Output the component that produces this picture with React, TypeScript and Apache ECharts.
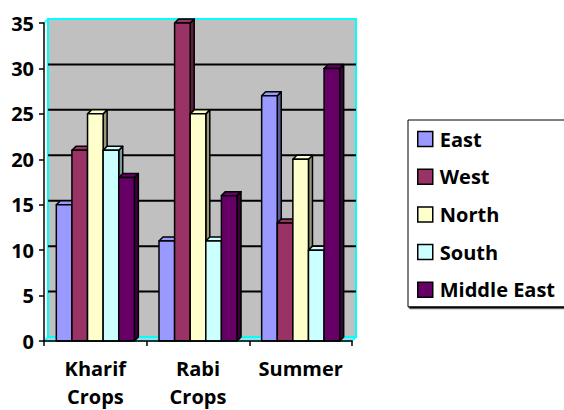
import React, { useEffect, useRef } from "react";
import * as echarts from "echarts";

const categories = ["Kharif\nCrops", "Rabi\nCrops", "Summer"];
const seriesNames = ["East", "West", "North", "South", "Middle East"];
const east = [15, 11, 27];
const west = [21, 35, 13];
const north = [25, 25, 20];
const south = [21, 11, 10];
const middleEast = [18, 16, 30];
const yTicks = [0, 5, 10, 15, 20, 25, 30, 35];

const seriesValues = [east, west, north, south, middleEast];
const frontColors = ["#9999FF", "#993366", "#FFFFCC", "#CCFFFF", "#660066"];
const sideColors = ["#5C5C99", "#5C1F3D", "#99997A", "#7A9999", "#3D003D"];

const FONT = "'Open Sans', sans-serif";
const D = 4; // depth offset

export default function App() {
  const ref = useRef<HTMLDivElement>(null);
  useEffect(() => {
    if (!ref.current) return;
    document.body.style.margin = "0";
    const chart = echarts.init(ref.current, null, { renderer: "svg" });

    const wallSeries: any = {
      type: "custom",
      name: "__wall",
      silent: true,
      z: 1,
      data: [[0, 0]],
      renderItem: (params: any, api: any) => {
        const cs = params.coordSys;
        const x0 = cs.x, y0 = cs.y, x1 = cs.x + cs.width, y1 = cs.y + cs.height;
        const children: any[] = [];
        children.push({
          type: "polygon",
          shape: { points: [[x0, y1], [x0 + D, y1 - D], [x1 + D, y1 - D], [x1, y1]] },
          style: { fill: "#A6D9D9", stroke: "#00FFFF", lineWidth: 1.5 },
        });
        children.push({
          type: "rect",
          shape: { x: x0 + D, y: y0 - D, width: cs.width, height: cs.height },
          style: { fill: "#C0C0C0", stroke: "#00FFFF", lineWidth: 2 },
        });
        yTicks.forEach((t) => {
          if (t === 0 || t === yTicks[yTicks.length - 1]) return;
          const y = api.coord([0, t])[1] - D;
          children.push({
            type: "line",
            shape: { x1: x0 + D, y1: y, x2: x1 + D, y2: y },
            style: { stroke: "#000", lineWidth: 2 },
          });
        });
        children.push({
          type: "line",
          shape: { x1: x0, y1: y0, x2: x0 + D, y2: y0 - D },
          style: { stroke: "#00FFFF", lineWidth: 1.5 },
        });
        return { type: "group", children };
      },
    };

    const barSeries = seriesNames.map((name, s) => ({
      type: "custom",
      name,
      z: 2,
      itemStyle: { color: frontColors[s], borderColor: "#000", borderWidth: 1.5 },
      data: categories.map((_, i) => [i, seriesValues[s][i]]),
      renderItem: (params: any, api: any) => {
        const i = api.value(0);
        const v = api.value(1);
        const base = api.coord([i, 0]);
        const top = api.coord([i, v]);
        const band = api.size([1, 0])[0];
        const barW = (band * 0.76) / 5;
        const xa = base[0] - 2.5 * barW + s * barW;
        const xb = xa + barW;
        const yb = base[1];
        const yt = top[1];
        const st = { stroke: "#000", lineWidth: 1.5, lineJoin: "round" };
        return {
          type: "group",
          children: [
            {
              type: "polygon",
              shape: { points: [[xb, yt], [xb + D, yt - D], [xb + D, yb - D], [xb, yb]] },
              style: { ...st, fill: sideColors[s] },
            },
            {
              type: "polygon",
              shape: { points: [[xa, yt], [xa + D, yt - D], [xb + D, yt - D], [xb, yt]] },
              style: { ...st, fill: frontColors[s] },
            },
            {
              type: "rect",
              shape: { x: xa, y: yt, width: barW, height: yb - yt },
              style: { ...st, fill: frontColors[s] },
            },
          ],
        };
      },
    }));

    chart.setOption({
      animation: false,
      grid: { left: 44, top: 23, right: 212, bottom: 68, containLabel: false },
      xAxis: {
        type: "category",
        data: categories,
        axisLine: { show: true, lineStyle: { color: "#000", width: 1.5 } },
        axisTick: { show: true, length: 5, lineStyle: { color: "#000", width: 1.5 } },
        axisLabel: {
          interval: 0,
          hideOverlap: false,
          color: "#000",
          fontFamily: FONT,
          fontWeight: "bold",
          fontSize: 20,
          lineHeight: 28,
          margin: 13,
        },
        splitLine: { show: false },
        z: 5,
      },
      yAxis: {
        type: "value",
        min: 0,
        max: 35,
        interval: 5,
        axisLine: { show: true, lineStyle: { color: "#000", width: 1.5 } },
        axisTick: { show: true, length: 5, lineStyle: { color: "#000", width: 1.5 } },
        axisLabel: {
          color: "#000",
          fontFamily: FONT,
          fontWeight: "bold",
          fontSize: 20,
          margin: 10,
        },
        splitLine: { show: false },
        z: 5,
      },
      legend: {
        data: seriesNames,
        orient: "vertical",
        left: 408,
        top: 120,
        padding: [8, 12, 6, 9],
        itemGap: 15.7,
        itemWidth: 15,
        itemHeight: 15,
        icon: "rect",
        itemStyle: { borderColor: "#000", borderWidth: 1.5 },
        borderColor: "#000",
        borderWidth: 1,
        backgroundColor: "#fff",
        shadowColor: "#000",
        shadowOffsetX: 1.5,
        shadowOffsetY: 1.5,
        shadowBlur: 0,
        selectedMode: false,
        textStyle: {
          color: "#000",
          fontFamily: FONT,
          fontWeight: "bold",
          fontSize: 20,
          lineHeight: 22,
          padding: [0, 0, 0, 2],
        },
      },
      series: [wallSeries, ...barSeries],
    });
    return () => chart.dispose();
  }, []);
  return <div ref={ref} style={{ width: 564, height: 410 }} />;
}
